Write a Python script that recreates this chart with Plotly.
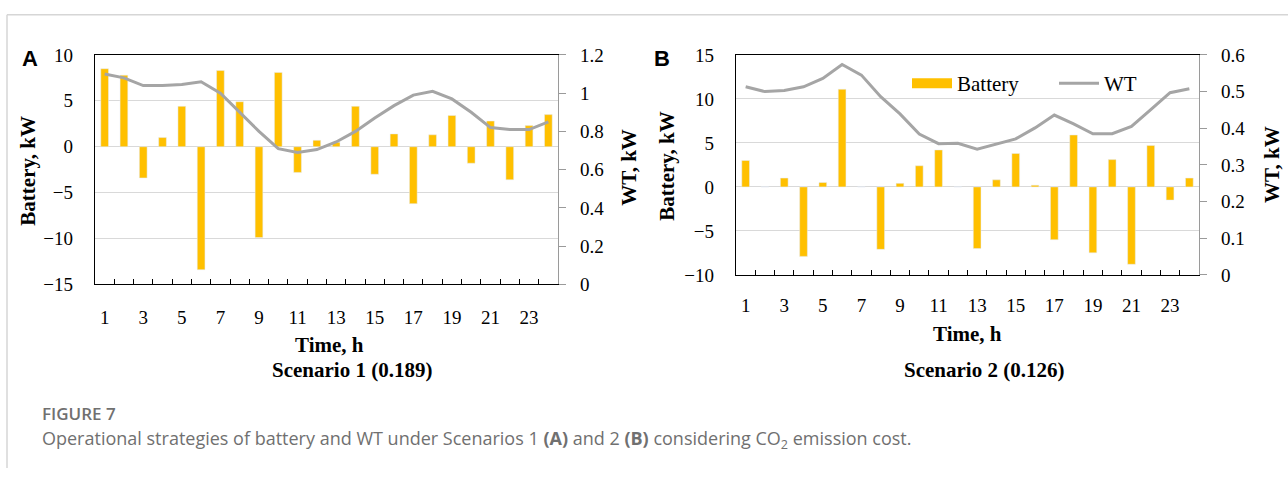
import plotly.graph_objects as go

hours = list(range(1, 25))
hour_labels = [str(h) for h in hours]
tick_text = [str(h) if h % 2 == 1 else "" for h in hours]

battery_s1 = [8.5, 7.8, -3.4, 1.0, 4.4, -13.4, 8.3, 4.9, -9.9, 8.1, -2.8, 0.7,
              0.5, 4.4, -3.0, 1.4, -6.2, 1.3, 3.4, -1.8, 2.8, -3.6, 2.3, 3.5]
wt_s1 = [1.10, 1.08, 1.04, 1.04, 1.045, 1.06, 1.00, 0.90, 0.80, 0.71, 0.69, 0.705,
         0.745, 0.80, 0.87, 0.935, 0.99, 1.01, 0.97, 0.90, 0.82, 0.81, 0.81, 0.85]

battery_s2 = [3.0, 0, 1.0, -7.9, 0.5, 11.1, 0, -7.1, 0.4, 2.4, 4.2, 0,
              -7.0, 0.8, 3.8, 0.2, -6.0, 5.9, -7.5, 3.1, -8.8, 4.7, -1.5, 1.0]
wt_s2 = [0.513, 0.500, 0.503, 0.513, 0.536, 0.574, 0.545, 0.486, 0.439, 0.384, 0.358, 0.359,
         0.343, 0.356, 0.371, 0.401, 0.436, 0.412, 0.385, 0.385, 0.405, 0.451, 0.497, 0.508]

W, H = 1288, 479
BAR = "#FFC000"
LINE = "#A5A5A5"
SERIF = "Liberation Serif"

def px(x):
    return x / W

def py(y):
    return 1 - y / H

fig = go.Figure()
fig.add_trace(go.Bar(x=hour_labels, y=battery_s1, marker_color=BAR, xaxis="x", yaxis="y",
                     showlegend=False, name="Battery"))
fig.add_trace(go.Scatter(x=hour_labels, y=wt_s1, mode="lines", line=dict(color=LINE, width=3),
                         xaxis="x", yaxis="y2", showlegend=False, name="WT"))
fig.add_trace(go.Bar(x=hour_labels, y=battery_s2, marker_color=BAR, xaxis="x2", yaxis="y3",
                     showlegend=False, name="Battery"))
fig.add_trace(go.Scatter(x=hour_labels, y=wt_s2, mode="lines", line=dict(color=LINE, width=3),
                         xaxis="x2", yaxis="y4", showlegend=False, name="WT"))
# legend entries (no data of their own)
fig.add_trace(go.Scatter(x=[None], y=[None], mode="lines", line=dict(color=BAR, width=12),
                         xaxis="x2", yaxis="y3", name="Battery"))
fig.add_trace(go.Scatter(x=[None], y=[None], mode="lines", line=dict(color=LINE, width=3),
                         xaxis="x2", yaxis="y4", name="WT"))

tickfont = dict(family=SERIF, size=19, color="black")

def xaxis(dom, anchor, standoff):
    return dict(domain=dom, anchor=anchor, type="category", tickmode="array",
                tickvals=hour_labels, ticktext=tick_text, tickson="boundaries",
                ticks="inside", ticklen=5, tickcolor="black", tickwidth=1, tickangle=0,
                showline=True, linecolor="black", linewidth=1.3, mirror=True,
                showgrid=False, tickfont=tickfont, ticklabelstandoff=standoff,
                fixedrange=True)

def yleft(dom, anchor, rng):
    return dict(domain=dom, anchor=anchor, range=rng, dtick=5, tick0=0,
                showgrid=True, gridcolor="#D9D9D9", gridwidth=1, zeroline=False,
                showline=True, linecolor="black", linewidth=1.3, ticks="",
                tickfont=tickfont, ticklabelstandoff=17)

def yright(overlay, anchor, rng, dt):
    return dict(overlaying=overlay, anchor=anchor, side="right", range=rng, dtick=dt, tick0=0,
                showgrid=False, zeroline=False, showline=True, linecolor="#9A9A9A",
                linewidth=1.3, ticks="outside", ticklen=7, tickcolor="#9A9A9A",
                tickfont=tickfont, ticklabelstandoff=10)

domA_x = [px(95), px(558)]
domA_y = [py(287), py(47)]
domB_x = [px(736), px(1199)]
domB_y = [py(277), py(47)]

fig.update_layout(
    width=W, height=H, autosize=False, margin=dict(l=0, r=0, t=0, b=0),
    paper_bgcolor="white", plot_bgcolor="white",
    bargap=0.6,
    xaxis=xaxis(domA_x, "y", 16),
    yaxis=yleft(domA_y, "x", [-15, 10]),
    yaxis2=yright("y", "x", [0, 1.2], 0.2),
    xaxis2=xaxis(domB_x, "y3", 13),
    yaxis3=yleft(domB_y, "x2", [-10, 15]),
    yaxis4=yright("y3", "x2", [0, 0.6], 0.1),
    legend=dict(orientation="h", x=px(907), y=py(77), xanchor="left", yanchor="middle",
                font=dict(family=SERIF, size=21, color="black"), bgcolor="rgba(0,0,0,0)",
                itemwidth=40, tracegroupgap=0, entrywidth=92, entrywidthmode="pixels"),
)

bold = dict(family=SERIF, size=21, color="black")
ann = [
    dict(text="<b>A</b>", x=px(30), y=py(51), font=dict(family="Liberation Sans", size=22, color="black")),
    dict(text="<b>B</b>", x=px(662), y=py(51), font=dict(family="Liberation Sans", size=22, color="black")),
    dict(text="<b>Battery, kW</b>", x=px(28), y=py(168), textangle=-90, font=bold),
    dict(text="<b>WT, kW</b>", x=px(629), y=py(165), textangle=-90, font=bold),
    dict(text="<b>Battery, kW</b>", x=px(667), y=py(163), textangle=-90, font=bold),
    dict(text="<b>WT, kW</b>", x=px(1272), y=py(162), textangle=-90, font=bold),
    dict(text="<b>Time, h</b>", x=px(329), y=py(350), font=bold),
    dict(text="<b>Scenario 1 (0.189)</b>", x=px(352), y=py(377), font=bold),
    dict(text="<b>Time, h</b>", x=px(967), y=py(339), font=bold),
    dict(text="<b>Scenario 2 (0.126)</b>", x=px(984), y=py(377), font=bold),
    dict(text="FIGURE 7", x=px(40), y=py(422), xanchor="left",
         font=dict(family="Open Sans", size=17, color="#707070", weight=600)),
    dict(text="Operational strategies of battery and WT under Scenarios 1 <b>(A)</b> and 2 <b>(B)</b> "
              "considering CO<sub>2</sub> emission cost.",
         x=px(40), y=py(449), xanchor="left",
         font=dict(family="Open Sans", size=18, color="#707070")),
]
for a in ann:
    a.setdefault("xanchor", "center")
    a.update(xref="paper", yref="paper", yanchor="middle", showarrow=False)
fig.update_layout(annotations=ann)

fig.update_layout(shapes=[
    dict(type="line", xref="paper", yref="paper", x0=px(7), x1=1, y0=py(5), y1=py(5),
         line=dict(color="#D6D6D6", width=1.5)),
    dict(type="line", xref="paper", yref="paper", x0=px(7), x1=px(7), y0=py(5), y1=0,
         line=dict(color="#D6D6D6", width=1.5)),
])

fig.write_html(
    "out.html",
    config={"displayModeBar": False, "responsive": False},
    post_script=("document.documentElement.style.margin='0';"
                 "document.documentElement.style.overflow='hidden';"
                 "document.body.style.margin='0';document.body.style.padding='0';"
                 "document.body.style.overflow='hidden';"
                 "var gd=document.getElementById('{plot_id}');"
                 "gd.style.position='fixed';gd.style.left='0px';gd.style.top='0px';"
                 "gd.style.width='1288px';gd.style.height='479px';"
                 "Plotly.relayout(gd,{width:1288,height:479,autosize:false});"),
)
